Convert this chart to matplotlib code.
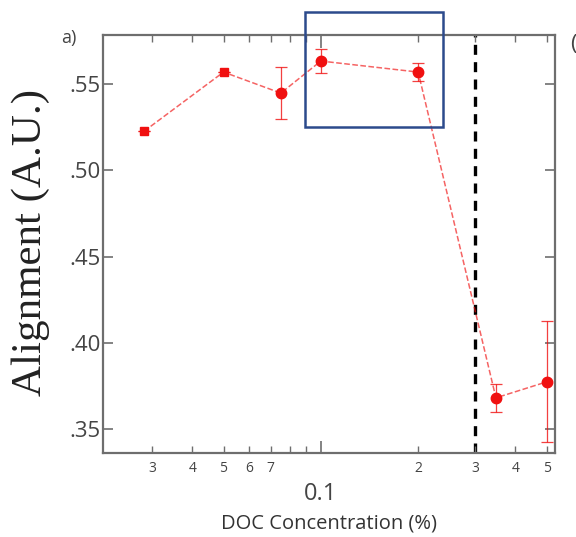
import numpy as np
import matplotlib.pyplot as plt
from matplotlib.patches import Rectangle
from matplotlib.ticker import FixedLocator, FixedFormatter

# DOC concentration (%) and alignment values
doc_conc = [0.0284, 0.05, 0.0752, 0.1, 0.2, 0.348, 0.5]
alignment = [0.5227, 0.557, 0.5448, 0.5634, 0.557, 0.368, 0.3773]
align_err = [0.0, 0.0, 0.015, 0.007, 0.005, 0.008, 0.035]
square_pts = 2  # the first two points are squares

cmc_line = 0.3
y_ticks = [0.35, 0.40, 0.45, 0.50, 0.55]
y_ticklabels = ['.35', '.40', '.45', '.50', '.55']
minor_ticks = [0.03, 0.04, 0.05, 0.06, 0.07, 0.08, 0.09, 0.2, 0.3, 0.4, 0.5]
minor_labels = ['3', '4', '5', '6', '7', '', '', '2', '3', '4', '5']

red = '#f01010'
gray = '#6e6e6e'

fig = plt.figure(figsize=(5.76, 5.37), dpi=100)
ax = fig.add_axes([0.179, 0.1564, 0.7845, 0.7784])

# dashed connecting line
ax.plot(doc_conc, alignment, ls='--', color=red, lw=1.1, alpha=0.65, zorder=2)
# error bars
ax.errorbar(doc_conc, alignment, yerr=align_err, fmt='none', ecolor=red,
            elinewidth=0.9, capsize=4, capthick=0.9, alpha=0.8, zorder=3)
ax.plot(doc_conc[:square_pts], alignment[:square_pts], 's', color=red, ms=6, zorder=4)
ax.plot(doc_conc[square_pts:], alignment[square_pts:], 'o', color=red, ms=7.5, zorder=4)

ax.axvline(cmc_line, color='black', ls=(0, (3, 2.2)), lw=2.4, zorder=1)

ax.set_xscale('log')
ax.set_xlim(0.0212, 0.53)
ax.set_ylim(0.336, 0.5785)

ax.xaxis.set_major_locator(FixedLocator([0.1]))
ax.xaxis.set_major_formatter(FixedFormatter(['0.1']))
ax.xaxis.set_minor_locator(FixedLocator(minor_ticks))
ax.xaxis.set_minor_formatter(FixedFormatter(minor_labels))
ax.set_yticks(y_ticks)
ax.set_yticklabels(y_ticklabels)

ax.tick_params(axis='both', which='both', direction='in', top=True, right=True,
               color=gray, labelcolor='#444444')
ax.tick_params(axis='x', which='major', length=9, width=1.2, labelsize=17, pad=21)
ax.tick_params(axis='x', which='minor', length=5, width=1.0, labelsize=10, pad=6)
ax.tick_params(axis='y', which='major', length=7, width=1.2, labelsize=16, pad=2)
for lab in ax.get_xticklabels(which='both') + ax.get_yticklabels():
    lab.set_family('Open Sans')

for sp in ax.spines.values():
    sp.set_color(gray)
    sp.set_linewidth(1.6)

ax.set_xlabel('DOC Concentration (%)', fontsize=14.5, family='Open Sans',
              color='#333333', labelpad=5)
fig.text(0.053, 0.549, 'Alignment (A.U.)', rotation=90, fontsize=31,
         family='Liberation Serif', ha='center', va='center', color='#222222')

fig.text(0.106, 0.93, 'a)', fontsize=13, family='Open Sans', color='#444444',
         ha='left', va='center')
fig.text(0.99, 0.918, '(', fontsize=16, family='Open Sans', color='#444444',
         ha='left', va='center')

# blue highlight box
fig.patches.append(Rectangle((0.5295, 0.7635), 0.2395, 0.2142, transform=fig.transFigure,
                             fill=False, edgecolor='#2c4a8c', lw=1.8, zorder=10))

fig.savefig('out.png', dpi=100)
